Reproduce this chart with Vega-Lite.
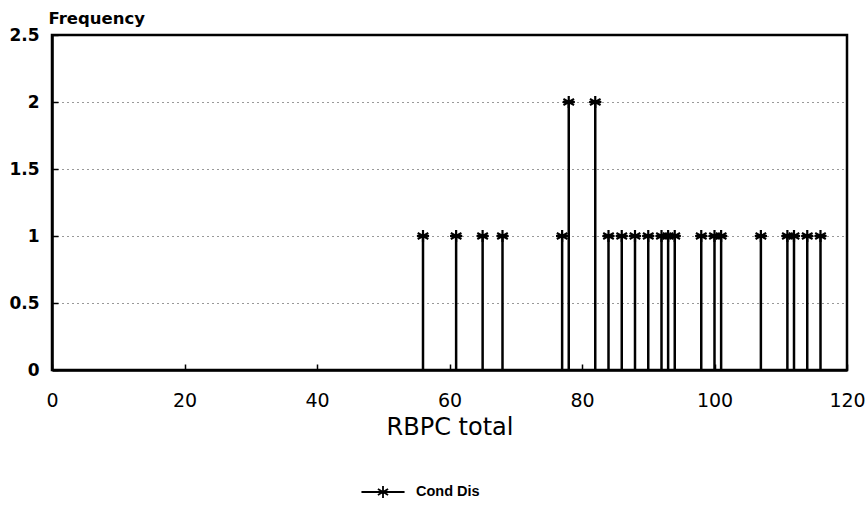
{
  "$schema": "https://vega.github.io/schema/vega-lite/v6.json",
  "width": 795,
  "height": 335,
  "autosize": "none",
  "padding": {"left": 52, "top": 35, "right": 20, "bottom": 139},
  "background": "white",
  "data": {
    "values": [
      {"rbpc": 56, "freq": 1, "series": "Cond Dis"},
      {"rbpc": 61, "freq": 1, "series": "Cond Dis"},
      {"rbpc": 65, "freq": 1, "series": "Cond Dis"},
      {"rbpc": 68, "freq": 1, "series": "Cond Dis"},
      {"rbpc": 77, "freq": 1, "series": "Cond Dis"},
      {"rbpc": 78, "freq": 2, "series": "Cond Dis"},
      {"rbpc": 82, "freq": 2, "series": "Cond Dis"},
      {"rbpc": 84, "freq": 1, "series": "Cond Dis"},
      {"rbpc": 86, "freq": 1, "series": "Cond Dis"},
      {"rbpc": 88, "freq": 1, "series": "Cond Dis"},
      {"rbpc": 90, "freq": 1, "series": "Cond Dis"},
      {"rbpc": 92, "freq": 1, "series": "Cond Dis"},
      {"rbpc": 93, "freq": 1, "series": "Cond Dis"},
      {"rbpc": 94, "freq": 1, "series": "Cond Dis"},
      {"rbpc": 98, "freq": 1, "series": "Cond Dis"},
      {"rbpc": 100, "freq": 1, "series": "Cond Dis"},
      {"rbpc": 101, "freq": 1, "series": "Cond Dis"},
      {"rbpc": 107, "freq": 1, "series": "Cond Dis"},
      {"rbpc": 111, "freq": 1, "series": "Cond Dis"},
      {"rbpc": 112, "freq": 1, "series": "Cond Dis"},
      {"rbpc": 114, "freq": 1, "series": "Cond Dis"},
      {"rbpc": 116, "freq": 1, "series": "Cond Dis"}
    ]
  },
  "encoding": {
    "x": {
      "field": "rbpc",
      "type": "quantitative",
      "scale": {"domain": [0, 120], "nice": false},
      "axis": {
        "title": "RBPC total",
        "values": [0, 20, 40, 60, 80, 100, 120],
        "grid": false,
        "tickSize": -6,
        "labelPadding": 27,
        "labelFlush": false,
        "labelFontWeight": "normal",
        "labelFontSize": 19,
        "titlePadding": 5,
        "titleFontSize": 24
      }
    },
    "y": {
      "field": "freq",
      "type": "quantitative",
      "scale": {"domain": [0, 2.5], "nice": false},
      "axis": {
        "title": "Frequency",
        "values": [0, 0.5, 1, 1.5, 2, 2.5],
        "format": "~g",
        "grid": true,
        "gridDash": [1, 4],
        "gridColor": "black",
        "gridWidth": 1.2,
        "gridOpacity": 0.8,
        "tickSize": -6,
        "labelPadding": 19,
        "labelFontSize": 17,
        "labelFlush": false,
        "titleAngle": 0,
        "titleAlign": "left",
        "titleBaseline": "bottom",
        "titleX": -4,
        "titleY": -9,
        "titleFontSize": 16.5,
        "titleFontWeight": "bold"
      }
    }
  },
  "layer": [
    {
      "mark": {"type": "rule", "color": "black", "strokeWidth": 2.5},
      "encoding": {"y": {"datum": 0}, "y2": {"field": "freq"}}
    },
    {
      "mark": {
        "type": "point",
        "shape": "M0,-1L0,1M-0.87,-0.5L0.87,0.5M-0.87,0.5L0.87,-0.5M-1,0L1,0",
        "filled": false,
        "strokeWidth": 2.2,
        "size": 150,
        "opacity": 1
      },
      "encoding": {
        "color": {
          "field": "series",
          "type": "nominal",
          "scale": {"range": ["black"]},
          "legend": {
            "title": null,
            "orient": "none",
            "legendX": 320,
            "legendY": 446,
            "symbolType": "M-2.2,0L2.2,0M0,-0.6L0,0.6M-0.52,-0.3L0.52,0.3M-0.52,0.3L0.52,-0.3",
            "symbolSize": 384,
            "symbolStrokeWidth": 1.8,
            "labelFontSize": 14.5,
            "labelFontWeight": "bold",
            "labelFont": "Liberation Sans",
            "labelOffset": 22
          }
        }
      }
    }
  ],
  "config": {
    "view": {"stroke": "black", "strokeWidth": 2.5},
    "axis": {
      "domainColor": "black",
      "domainWidth": 2.5,
      "tickColor": "black",
      "tickWidth": 1.5,
      "labelFont": "DejaVu Sans",
      "labelFontSize": 18,
      "labelColor": "black",
      "labelFontWeight": "bold",
      "titleFont": "DejaVu Sans",
      "titleFontSize": 21,
      "titleFontWeight": "normal",
      "titleColor": "black"
    }
  }
}
